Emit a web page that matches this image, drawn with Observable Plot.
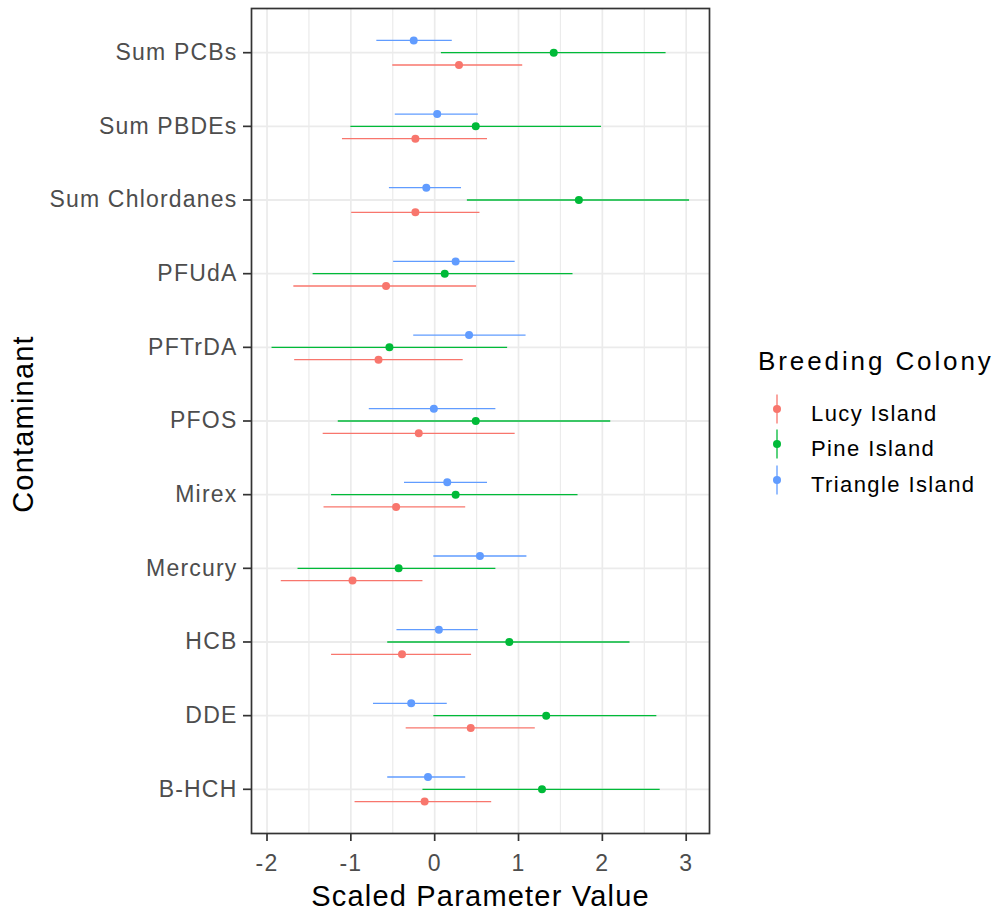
<!DOCTYPE html>
<html>
<head>
<meta charset="utf-8">
<script src="https://cdn.jsdelivr.net/npm/d3@7"></script>
<script src="https://cdn.jsdelivr.net/npm/@observablehq/plot@0.6"></script>
<style>
  html, body { margin: 0; padding: 0; background: #fff; }
  #wrap { position: relative; width: 997px; height: 911px; font-family: "Liberation Sans", Arial, sans-serif; }
  #wrap svg text { letter-spacing: 1.2px; }
  g[aria-label="y-axis tick"], g[aria-label="x-axis tick"] { stroke: #333333; }
  g[aria-label="axis-title"] text { letter-spacing: 1.8px; }
  #legend { position: absolute; left: 720px; top: 330px; }
  #legend text.title { letter-spacing: 2.9px; }
</style>
</head>
<body>
<div id="wrap"></div>
<script>
// ---- data ----
const contaminants = ["Sum PCBs", "Sum PBDEs", "Sum Chlordanes", "PFUdA", "PFTrDA", "PFOS", "Mirex", "Mercury", "HCB", "DDE", "B-HCH"];
const colonies = ["Lucy Island", "Pine Island", "Triangle Island"];
const colours = ["#F8766D", "#00BA38", "#619CFF"];

const lucyEst = [0.29, -0.23, -0.23, -0.58, -0.67, -0.19, -0.46, -0.98, -0.39, 0.43, -0.12];
const lucyLo  = [-0.50, -1.10, -0.99, -1.68, -1.67, -1.33, -1.32, -1.83, -1.23, -0.34, -0.95];
const lucyHi  = [1.05, 0.63, 0.54, 0.50, 0.34, 0.96, 0.37, -0.14, 0.44, 1.20, 0.68];

const pineEst = [1.42, 0.49, 1.72, 0.12, -0.54, 0.49, 0.25, -0.43, 0.89, 1.33, 1.28];
const pineLo  = [0.08, -1.00, 0.39, -1.45, -1.94, -1.15, -1.23, -1.63, -0.56, -0.01, -0.14];
const pineHi  = [2.76, 1.99, 3.04, 1.65, 0.87, 2.10, 1.71, 0.73, 2.33, 2.65, 2.69];

const triEst = [-0.25, 0.03, -0.10, 0.25, 0.41, -0.01, 0.15, 0.54, 0.05, -0.28, -0.08];
const triLo  = [-0.69, -0.47, -0.54, -0.49, -0.25, -0.78, -0.36, -0.01, -0.45, -0.73, -0.56];
const triHi  = [0.21, 0.52, 0.32, 0.96, 1.09, 0.73, 0.63, 1.10, 0.52, 0.15, 0.37];

const xMajor = [-2, -1, 0, 1, 2, 3];
const xMinor = [-1.5, -0.5, 0.5, 1.5, 2.5];

const xTitle = "Scaled Parameter Value";
const yTitle = "Contaminant";
const legendTitle = "Breeding Colony";

// ---- build table ----
const seriesArrays = [[lucyEst, lucyLo, lucyHi], [pineEst, pineLo, pineHi], [triEst, triLo, triHi]];
const rows = colonies.flatMap((c, i) => contaminants.map((k, j) => ({
  contaminant: k, colony: c,
  est: seriesArrays[i][0][j], lo: seriesArrays[i][1][j], hi: seriesArrays[i][2][j]
})));

// dodge offsets (px) per colony: Lucy below, Pine centre, Triangle above
const dodge = [12.3, 0, -12.3];

const colorScale = {domain: colonies, range: colours};

const pointMarks = colonies.flatMap((c, i) => {
  const sub = rows.filter(d => d.colony === c);
  return [
    Plot.ruleY(sub, {y: "contaminant", x1: "lo", x2: "hi", stroke: "colony", strokeWidth: 1.3, dy: dodge[i]}),
    Plot.dot(sub, {x: "est", y: "contaminant", fill: "colony", r: 4, dy: dodge[i]})
  ];
});

const chart = Plot.plot({
  width: 720,
  height: 911,
  marginLeft: 251,
  marginRight: 11,
  marginTop: 8,
  marginBottom: 78,
  style: {fontFamily: "'Liberation Sans', Arial, sans-serif", background: "#fff"},
  x: {domain: [-2.185, 3.278]},
  y: {type: "point", domain: contaminants, padding: 0.6, round: false},
  color: colorScale,
  marks: [
    Plot.ruleX(xMinor, {stroke: "#EBEBEB", strokeWidth: 1.2}),
    Plot.ruleX(xMajor, {stroke: "#EBEBEB", strokeWidth: 1.7}),
    Plot.ruleY(contaminants, {y: d => d, stroke: "#EBEBEB", strokeWidth: 1.8}),
    ...pointMarks,
    Plot.frame({stroke: "#333333", strokeWidth: 1.7}),
    Plot.axisX({ticks: xMajor, tickFormat: d => String(d), tickSize: 8, tickPadding: 13, fontSize: 23, color: "#4D4D4D", strokeWidth: 1.7, label: null}),
    Plot.axisY({tickSize: 8, tickPadding: 6, fontSize: 23, color: "#4D4D4D", strokeWidth: 1.7, label: null}),
    Plot.text([xTitle], {frameAnchor: "bottom", dy: 63, lineAnchor: "middle", textAnchor: "middle", fontSize: 29, fill: "#000", ariaLabel: "axis-title"}),
    Plot.text([yTitle], {frameAnchor: "left", dx: -228, dy: 3, rotate: -90, lineAnchor: "middle", textAnchor: "middle", fontSize: 29, fill: "#000", ariaLabel: "axis-title"})
  ]
});
document.getElementById("wrap").appendChild(chart);

// ---- legend ----
const lg = d3.select("#wrap").append("svg")
  .attr("id", "legend").attr("width", 277).attr("height", 180)
  .style("font-family", "'Liberation Sans', Arial, sans-serif");
lg.append("text").attr("class", "title").attr("x", 38).attr("y", 39.5)
  .attr("font-size", 26).attr("fill", "#000").text(legendTitle);
const keyY = [79, 114, 150];
colonies.forEach((c, i) => {
  const g = lg.append("g");
  g.append("line").attr("x1", 57).attr("x2", 57).attr("y1", keyY[i] - 14.5).attr("y2", keyY[i] + 14.5)
    .attr("stroke", colours[i]).attr("stroke-width", 1.3);
  g.append("circle").attr("cx", 57).attr("cy", keyY[i]).attr("r", 4).attr("fill", colours[i]);
  g.append("text").attr("x", 91).attr("y", keyY[i] + 11.5).attr("font-size", 22).attr("fill", "#000")
    .style("letter-spacing", "1.4px").text(c);
});
</script>
</body>
</html>
